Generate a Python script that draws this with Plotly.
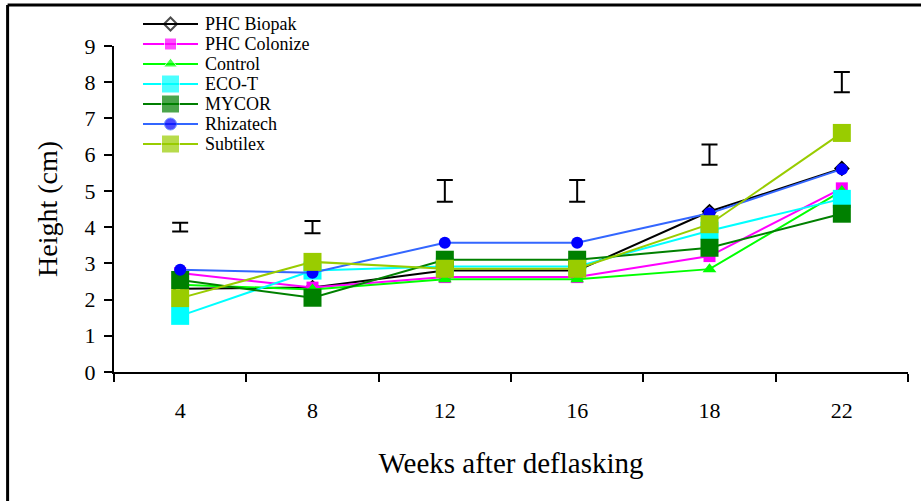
import plotly.graph_objects as go

weeks = ["4", "8", "12", "16", "18", "22"]

series_names = ["PHC Biopak", "PHC Colonize", "Control", "ECO-T", "MYCOR", "Rhizatech", "Subtilex"]
biopak = [2.30, 2.33, 2.80, 2.80, 4.43, 5.62]
colonize = [2.73, 2.33, 2.62, 2.62, 3.20, 5.07]
control = [2.41, 2.28, 2.56, 2.56, 2.84, 5.00]
eco_t = [1.55, 2.80, 2.91, 2.91, 3.90, 4.78]
mycor = [2.54, 2.05, 3.10, 3.10, 3.43, 4.37]
rhizatech = [2.82, 2.74, 3.57, 3.57, 4.38, 5.60]
subtilex = [2.04, 3.04, 2.85, 2.85, 4.08, 6.60]

lsd_center = [4.0, 4.0, 5.0, 5.0, 6.0, 8.0]
lsd_half = [0.12, 0.17, 0.30, 0.30, 0.28, 0.28]

FONT = "Liberation Serif, Times New Roman, serif"

styles = [
    dict(line_color="#000000", marker=dict(symbol="diamond-open", size=10, color="#000000", line=dict(width=2, color="#000000"))),
    dict(line_color="#FF00FF", marker=dict(symbol="square", size=12, color="#FF00FF")),
    dict(line_color="#00FF00", marker=dict(symbol="triangle-up", size=12, color="#00FF00")),
    dict(line_color="#00FFFF", marker=dict(symbol="square", size=18, color="#00FFFF")),
    dict(line_color="#008000", marker=dict(symbol="square", size=18, color="#008000")),
    dict(line_color="#3366FF", marker=dict(symbol="circle", size=12, color="#0000FF")),
    dict(line_color="#99CC00", marker=dict(symbol="square", size=18, color="#99CC00")),
]
values = [biopak, colonize, control, eco_t, mycor, rhizatech, subtilex]

fig = go.Figure()
for name, vals, st in zip(series_names, values, styles):
    fig.add_trace(go.Scatter(
        x=weeks, y=vals, name=name, mode="lines+markers",
        line=dict(color=st["line_color"], width=2),
        marker=st["marker"], showlegend=False,
    ))

fig.add_trace(go.Scatter(
    x=weeks, y=lsd_center, mode="markers", showlegend=False,
    marker=dict(size=1, color="rgba(0,0,0,0)"),
    error_y=dict(type="data", array=lsd_half, visible=True, color="#000000", thickness=2, width=8),
    hoverinfo="skip",
))

# Legend drawn on its own small axes: one row per series name (category axis)
legend_x = [0, 1, 2]
for name, st in zip(series_names, styles):
    mk = dict(st["marker"])
    mk["size"] = [0, st["marker"]["size"], 0]
    fig.add_trace(go.Scatter(
        x=legend_x, y=[name] * len(legend_x), mode="lines+markers",
        line=dict(color=st["line_color"], width=2), marker=mk,
        xaxis="x2", yaxis="y2", showlegend=False, hoverinfo="skip", cliponaxis=False,
    ))

PLOT_TOP = 10
main_h = 372 - PLOT_TOP
LEG_TOP = 14.0
LEG_ROW = 20.0
LEG_BOTTOM = LEG_TOP + LEG_ROW * len(series_names)

fig.update_layout(
    width=921, height=501,
    margin=dict(l=114, r=13, t=PLOT_TOP, b=129),
    paper_bgcolor="white", plot_bgcolor="rgba(0,0,0,0)",
    font=dict(family=FONT, color="black"),
    showlegend=False,
    xaxis=dict(domain=[0, 1]),
    yaxis=dict(domain=[0, 326 / main_h]),
    xaxis2=dict(domain=[(143 - 114) / 794, (198 - 114) / 794], range=[0, 2], anchor="y2",
                automargin=False,
                showline=False, showgrid=False, zeroline=False, showticklabels=False, ticks=""),
    yaxis2=dict(domain=[(372 - LEG_BOTTOM) / main_h, (372 - LEG_TOP) / main_h], anchor="x2", side="right",
                automargin=False,
                type="category", categoryorder="array", categoryarray=series_names,
                tickmode="array", tickvals=series_names, ticktext=series_names,
                range=[len(series_names) - 0.5, -0.5],
                showline=False, showgrid=False, zeroline=False, ticks="",
                ticklabelstandoff=6,
                tickfont=dict(family=FONT, size=18, color="black")),
    shapes=[
        dict(type="line", xref="paper", yref="paper", x0=-0.134, x1=-0.134, y0=-0.5, y1=(372 - 5) / main_h,
             line=dict(color="black", width=3)),
        dict(type="line", xref="paper", yref="paper", x0=-0.134, x1=1.03, y0=(372 - 5) / main_h, y1=(372 - 5) / main_h,
             line=dict(color="black", width=3)),
    ],
)

fig.layout.xaxis.update(
    type="category", categoryorder="array", categoryarray=weeks,
    range=[-0.5, 5.5], tickson="boundaries", automargin=False,
    showline=True, linecolor="black", linewidth=2,
    ticks="outside", ticklen=8, tickwidth=2, tickcolor="black",
    tickfont=dict(family=FONT, size=22, color="black"),
    ticklabelstandoff=18,
    showgrid=False, zeroline=False,
    title=dict(text="Weeks after deflasking", font=dict(family=FONT, size=29, color="black"), standoff=30),
)
fig.layout.yaxis.update(
    range=[0, 9], dtick=1, tick0=0, automargin=False,
    showline=True, linecolor="black", linewidth=2,
    ticks="outside", ticklen=8, tickwidth=2, tickcolor="black",
    tickfont=dict(family=FONT, size=22, color="black"),
    ticklabelstandoff=4,
    showgrid=False, zeroline=False,
    title=dict(text="Height (cm)", font=dict(family=FONT, size=28, color="black"), standoff=19),
)

fig.write_html("out.html")
